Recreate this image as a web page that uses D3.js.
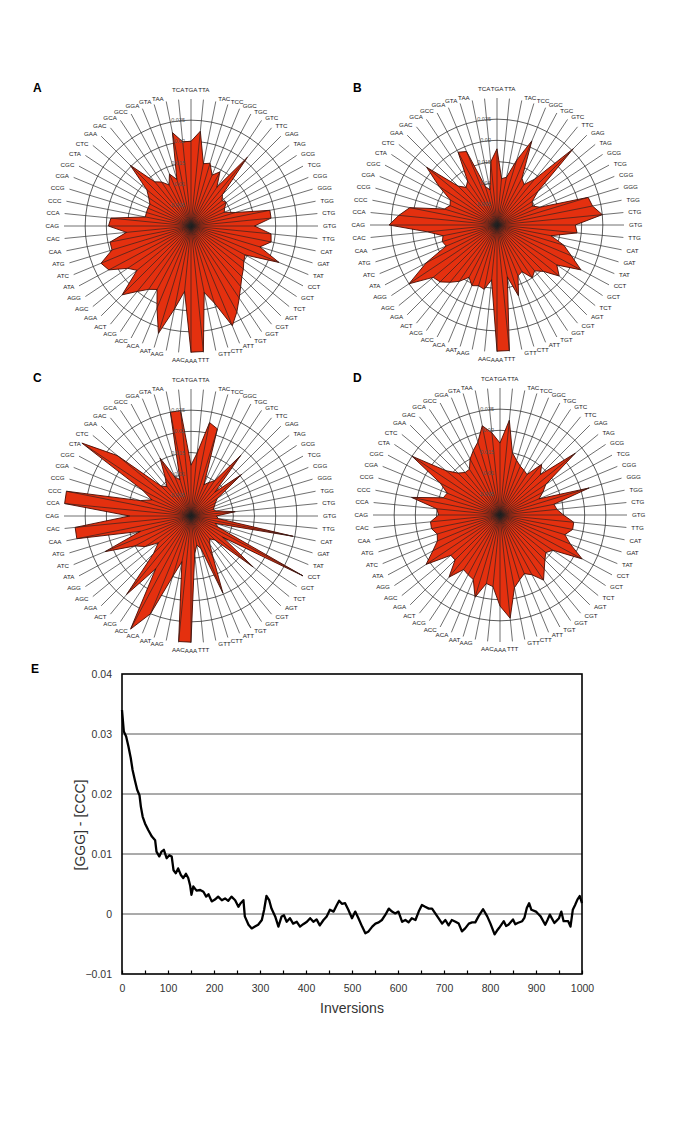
<!DOCTYPE html>
<html><head><meta charset="utf-8">
<script src="https://cdn.jsdelivr.net/npm/d3@7"></script>
<style>body{margin:0;background:#fff} svg{display:block}</style>
</head><body>
<svg id="c" width="685" height="1127"></svg>
<script>
const codons = ["TGA","TTA","TAC","TCC","GGC","TGC","GTC","TTC","GAG","TAG","GCG","TCG","CGG","GGG","TGG","CTG",
"GTG","TTG","CAT","GAT","TAT","CCT","GCT","TCT","AGT","CGT","GGT","TGT","ATT","CTT","GTT","TTT",
"AAA","AAC","AAG","AAT","ACA","ACC","ACG","ACT","AGA","AGC","AGG","ATA","ATC","ATG","CAA","CAC",
"CAG","CCA","CCC","CCG","CGA","CGC","CTA","CTC","GAA","GAC","GCA","GCC","GGA","GTA","TAA","TCA"];
const ringTicks = [0.005,0.01,0.015,0.02,0.025];
const ringLabels = ["0.005","0.01","0.015","0.02","0.025"];
const valuesA = [0.0200,0.0225,0.0150,0.0155,0.0130,0.0145,0.0110,0.0210,0.0105,0.0095,0.0100,0.0090,0.0085,0.0110,0.0190,0.0190,
0.0150,0.0190,0.0193,0.0170,0.0225,0.0145,0.0150,0.0160,0.0170,0.0185,0.0205,0.0230,0.0255,0.0190,0.0160,0.0298,
0.0298,0.0155,0.0200,0.0265,0.0210,0.0170,0.0180,0.0200,0.0230,0.0165,0.0180,0.0220,0.0230,0.0195,0.0195,0.0153,
0.0195,0.0190,0.0110,0.0110,0.0110,0.0110,0.0120,0.0135,0.0203,0.0135,0.0125,0.0110,0.0133,0.0115,0.0225,0.0200];
const valuesB = [0.0180,0.0110,0.0115,0.0160,0.0215,0.0125,0.0115,0.0140,0.0255,0.0125,0.0100,0.0095,0.0110,0.0225,0.0230,0.0250,
0.0185,0.0190,0.0130,0.0165,0.0190,0.0225,0.0170,0.0190,0.0155,0.0140,0.0150,0.0125,0.0130,0.0175,0.0125,0.0298,
0.0298,0.0130,0.0155,0.0150,0.0155,0.0140,0.0160,0.0175,0.0190,0.0195,0.0250,0.0190,0.0130,0.0135,0.0130,0.0165,
0.0255,0.0233,0.0210,0.0130,0.0120,0.0125,0.0165,0.0215,0.0130,0.0115,0.0125,0.0195,0.0188,0.0095,0.0085,0.0150];
const valuesC = [0.0120,0.0150,0.0225,0.0215,0.0080,0.0090,0.0100,0.0185,0.0080,0.0155,0.0075,0.0065,0.0060,0.0055,0.0060,0.0105,
0.0060,0.0065,0.0246,0.0060,0.0070,0.0300,0.0090,0.0190,0.0080,0.0070,0.0080,0.0110,0.0197,0.0080,0.0070,0.0090,
0.0298,0.0298,0.0110,0.0150,0.0250,0.0303,0.0150,0.0240,0.0125,0.0100,0.0130,0.0150,0.0220,0.0125,0.0275,0.0275,
0.0145,0.0300,0.0300,0.0125,0.0100,0.0130,0.0310,0.0225,0.0100,0.0090,0.0110,0.0155,0.0100,0.0090,0.0250,0.0250];
const valuesD = [0.0170,0.0225,0.0150,0.0135,0.0125,0.0120,0.0115,0.0155,0.0135,0.0230,0.0130,0.0115,0.0100,0.0220,0.0130,0.0135,
0.0150,0.0175,0.0175,0.0160,0.0180,0.0220,0.0150,0.0140,0.0150,0.0165,0.0185,0.0160,0.0150,0.0160,0.0175,0.0245,
0.0215,0.0170,0.0165,0.0203,0.0165,0.0160,0.0155,0.0190,0.0150,0.0150,0.0210,0.0180,0.0160,0.0155,0.0165,0.0165,
0.0145,0.0150,0.0213,0.0140,0.0135,0.0160,0.0250,0.0165,0.0140,0.0130,0.0130,0.0150,0.0165,0.0180,0.0215,0.0195];

const inversions = [0,4,9,14,19,23,28,33,38,41,45,50,57,65,72,75,81,86,91,97,103,108,112,117,122,128,133,139,144,148,151,155,162,170,177,183,188,195,202,209,217,224,231,238,246,253,258,264,267,275,282,289,296,304,309,314,320,325,333,340,347,352,358,365,372,380,387,394,402,409,416,423,430,438,445,452,460,467,472,478,485,492,500,507,514,522,529,536,544,551,558,565,572,580,587,594,601,609,616,623,630,638,645,652,659,667,674,681,688,696,703,710,717,725,732,739,746,754,761,768,775,785,794,801,810,815,820,830,835,840,850,855,860,870,875,880,885,890,900,905,910,920,925,930,940,945,950,955,960,970,975,980,985,990,995,1000];
const diffGC = [0.0340,0.0304,0.0296,0.0279,0.0260,0.0240,0.0223,0.0207,0.0198,0.0179,0.0162,0.0151,0.0140,0.0129,0.0123,0.0104,0.0096,0.0104,0.0107,0.0093,0.0098,0.0096,0.0073,0.0068,0.0076,0.0065,0.0060,0.0067,0.0060,0.0048,0.0032,0.0046,0.0039,0.0040,0.0037,0.0029,0.0033,0.0021,0.0024,0.0029,0.0023,0.0026,0.0022,0.0029,0.0023,0.0012,0.0018,0.0023,-0.0004,-0.0018,-0.0024,-0.0021,-0.0018,-0.0010,0.0007,0.0030,0.0023,0.0009,-0.0004,-0.0021,-0.0004,-0.0002,-0.0013,-0.0007,-0.0016,-0.0013,-0.0021,-0.0017,-0.0013,-0.0007,-0.0013,-0.0009,-0.0019,-0.0010,-0.0004,0.0007,0.0004,0.0015,0.0022,0.0017,0.0018,0.0007,-0.0007,0.0004,-0.0007,-0.0021,-0.0032,-0.0029,-0.0021,-0.0016,-0.0014,-0.0010,-0.0002,0.0009,0.0004,0.0001,0.0004,-0.0013,-0.0010,-0.0014,-0.0007,-0.0010,0.0004,0.0015,0.0012,0.0009,0.0009,0.0001,-0.0007,-0.0016,-0.0010,-0.0019,-0.0010,-0.0013,-0.0016,-0.0029,-0.0024,-0.0016,-0.0014,-0.0014,-0.0004,0.0008,-0.0004,-0.0016,-0.0034,-0.0028,-0.0023,-0.0012,-0.0020,-0.0018,-0.0009,-0.0017,-0.0015,-0.0012,-0.0006,0.0010,0.0018,0.0007,0.0004,0.0000,-0.0004,-0.0018,-0.0010,-0.0001,-0.0015,-0.0011,-0.0007,0.0004,-0.0012,-0.0012,-0.0021,0.0007,0.0015,0.0024,0.0030,0.0018];
const xTicks = [0,100,200,300,400,500,600,700,800,900,1000];
const yTicks = [-0.01,0,0.01,0.02,0.03,0.04];

const svg = d3.select("#c");
const FONT = "Liberation Sans, Arial, Helvetica, sans-serif";
const RED = "#e4300f";

const panels = [
  {letter:"A", cx:191, cy:226, values:valuesA, lx:33, ly:92},
  {letter:"B", cx:497, cy:225, values:valuesB, lx:353, ly:92},
  {letter:"C", cx:191, cy:516, values:valuesC, lx:33, ly:382},
  {letter:"D", cx:500, cy:515, values:valuesD, lx:353, ly:382}
];
const r = d3.scaleLinear().domain([0,0.03]).range([0,127]);
const ang = d3.scaleLinear().domain([0,64]).range([0,2*Math.PI]);

panels.forEach(p => {
  svg.append("text").attr("x",p.lx).attr("y",p.ly).text(p.letter)
    .attr("font-family",FONT).attr("font-weight","bold").attr("font-size",12);
  const g = svg.append("g").attr("transform",`translate(${p.cx},${p.cy})`);
  g.selectAll("circle.ring").data(ringTicks).join("circle").attr("class","ring")
    .attr("r",d=>r(d)).attr("fill","none").attr("stroke","#333").attr("stroke-width",0.8);
  const line = d3.lineRadial().angle((d,i)=>ang(i)).radius(d=>r(d)).curve(d3.curveLinearClosed);
  g.append("path").attr("d",line(p.values)).attr("fill",RED).attr("stroke","#4a0a00").attr("stroke-width",0.9).attr("stroke-linejoin","miter");
  g.selectAll("line.spoke").data(codons).join("line").attr("class","spoke")
    .attr("x1",0).attr("y1",0)
    .attr("x2",(d,i)=>r(0.03)*Math.sin(ang(i)))
    .attr("y2",(d,i)=>-r(0.03)*Math.cos(ang(i)))
    .attr("stroke","#222").attr("stroke-width",0.65);
  g.selectAll("text.ringlab").data(ringTicks).join("text").attr("class","ringlab")
    .attr("x",-6).attr("y",d=>-r(d)+2).attr("text-anchor","end")
    .attr("font-family",FONT).attr("font-size",5.5).attr("fill","#555")
    .text((d,i)=>ringLabels[i]);
  const RL = 130;
  g.selectAll("text.codon").data(codons).join("text").attr("class","codon")
    .attr("x",(d,i)=>{const s=Math.sin(ang(i)); return RL*s + (Math.abs(s)<0.1?0:(s>0?2:-2));})
    .attr("y",(d,i)=>{const c=Math.cos(ang(i)), s=Math.sin(ang(i));
      const extra = Math.abs(s)<0.1 ? (c>0 ? -6.5*c : -4.5*c) : 0;
      return -RL*c + 2.2 + extra;})
    .attr("text-anchor",(d,i)=>{const s=Math.sin(ang(i)); return Math.abs(s)<0.1?"middle":(s>0?"start":"end");})
    .attr("font-family",FONT).attr("font-size",6.2).attr("fill","#222")
    .text(d=>d);
});

// Panel E
svg.append("text").attr("x",31).attr("y",673).text("E")
  .attr("font-family",FONT).attr("font-weight","bold").attr("font-size",12);
const x = d3.scaleLinear().domain([0,1000]).range([122,582]);
const y = d3.scaleLinear().domain([-0.01,0.04]).range([974,674]);
const gridVals = [0,0.01,0.02,0.03];
svg.append("g").selectAll("line").data(gridVals).join("line")
  .attr("x1",x(0)).attr("x2",x(1000)).attr("y1",d=>y(d)).attr("y2",d=>y(d))
  .attr("stroke","#444").attr("stroke-width",0.9);
svg.append("path").datum(inversions.map((t,i)=>[t,diffGC[i]]))
  .attr("d",d3.line().x(d=>x(d[0])).y(d=>y(d[1])))
  .attr("fill","none").attr("stroke","#000").attr("stroke-width",2.3).attr("stroke-linejoin","round");
svg.append("rect").attr("x",x(0)).attr("y",y(0.04)).attr("width",x(1000)-x(0)).attr("height",y(-0.01)-y(0.04))
  .attr("fill","none").attr("stroke","#000").attr("stroke-width",1.6);
const minor = d3.range(0,1001,50);
svg.append("g").attr("transform",`translate(0,${y(-0.01)})`)
  .call(d3.axisBottom(x).tickValues(minor).tickSize(-3.5).tickFormat(""))
  .call(g=>g.select(".domain").remove())
  .call(g=>g.selectAll("line").attr("stroke","#000").attr("stroke-width",1.2));
svg.append("g").attr("transform",`translate(0,${y(-0.01)})`)
  .call(d3.axisBottom(x).tickValues(xTicks).tickSize(0).tickPadding(11).tickFormat(d3.format("d")))
  .call(g=>g.select(".domain").remove())
  .call(g=>g.selectAll("text").attr("font-family",FONT).attr("font-size",10.5).attr("fill","#333"));
svg.append("g").attr("transform",`translate(${x(0)},0)`)
  .call(d3.axisLeft(y).tickValues(yTicks).tickSize(0).tickPadding(10).tickFormat(d=>d===0?"0":d3.format(".2f")(d)))
  .call(g=>g.select(".domain").remove())
  .call(g=>g.selectAll("text").attr("font-family",FONT).attr("font-size",10.5).attr("fill","#333"));
svg.append("text").attr("x",352).attr("y",1013).attr("text-anchor","middle")
  .attr("font-family",FONT).attr("font-size",14).attr("fill","#333").text("Inversions");
svg.append("text").attr("transform","translate(85,825) rotate(-90)").attr("text-anchor","middle")
  .attr("font-family",FONT).attr("font-size",14).attr("fill","#333").text("[GGG] - [CCC]");
</script>
</body></html>
